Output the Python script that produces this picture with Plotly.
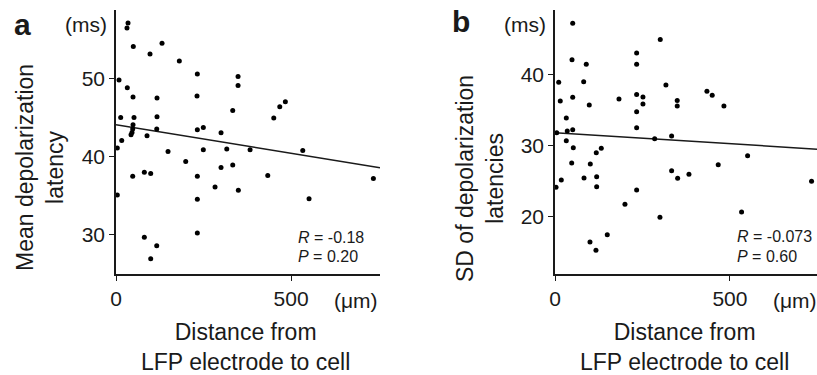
import plotly.graph_objects as go

# ---------------- data ----------------
# Panel a: distance (µm) vs mean depolarization latency (ms)
dist_a = [34.3, 31.4, 49.4, 131.4, 97.1, 180.9, 8.6, 232.3, 348.6, 348.6,
          32.3, 48.6, 117.1, 231.4, 333.4, 483.7, 467.7, 450.6, 13.4, 51.4,
          117.1, 48.6, 47.7, 45.7, 42.9, 116.3, 88.6, 232.3, 249.4, 300.0,
          16.3, 3.7, 148.6, 249.4, 316.3, 382.9, 533.4, 199.1, 300.0, 333.4,
          47.7, 80.9, 99.1, 232.3, 433.4, 282.9, 349.4, 3.7, 232.3, 551.4,
          735.1, 232.3, 80.9, 116.3, 99.1]
lat_a = [57.14, 56.5, 54.14, 54.53, 53.17, 52.27, 49.83, 50.60, 50.29, 49.14,
         48.85, 47.65, 47.53, 47.78, 45.94, 47.05, 46.41, 44.96, 45.04, 45.04,
         45.13, 44.10, 43.55, 43.12, 42.82, 43.55, 42.69, 43.46, 43.76, 43.08,
         42.09, 41.12, 40.68, 40.90, 40.99, 40.90, 40.81, 39.40, 38.63, 38.94,
         37.53, 38.04, 37.86, 37.53, 37.60, 36.15, 35.73, 35.13, 34.58, 34.62,
         37.22, 30.26, 29.71, 28.63, 26.96]
fit_a_x = [0, 754]
fit_a_y = [44.1, 38.6]

# Panel b: distance (µm) vs SD of depolarization latencies (ms)
dist_b = [50.6, 300.9, 233.4, 48.6, 89.4, 233.4, 10.6, 82.0, 317.1, 434.3,
          449.4, 50.6, 15.1, 182.9, 233.4, 251.4, 251.4, 349.4, 349.4, 98.0,
          482.9, 233.4, 32.3, 233.4, 50.6, 35.1, 4.9, 333.4, 284.9, 32.3,
          52.3, 132.3, 118.0, 47.7, 100.9, 466.6, 550.6, 18.0, 82.9, 119.1,
          119.1, 2.9, 333.4, 350.6, 382.9, 233.4, 200.0, 300.0, 533.4, 733.4,
          149.4, 100.0, 117.1]
sd_b = [47.15, 44.85, 42.99, 42.01, 41.40, 41.40, 38.88, 38.96, 38.50, 37.62,
        37.05, 36.77, 36.26, 36.54, 37.14, 36.82, 35.83, 36.30, 35.55, 35.69,
        35.55, 34.75, 33.87, 32.51, 32.23, 32.05, 31.81, 31.35, 30.97, 30.69,
        29.71, 29.62, 29.00, 27.56, 27.42, 27.32, 28.58, 25.18, 25.46, 25.64,
        24.24, 24.15, 26.48, 25.41, 25.97, 23.77, 21.77, 19.94, 20.69, 24.99,
        17.50, 16.48, 15.32]
fit_b_x = [0, 749]
fit_b_y = [31.8, 29.5]

ticks_x = [0, 500]
ticks_a = [30, 40, 50]
ticks_b = [20, 30, 40]
stats_a = ["<i>R</i> = -0.18", "<i>P</i> = 0.20"]
stats_b = ["<i>R</i> = -0.073", "<i>P</i> = 0.60"]

# ---------------- layout helpers ----------------
W, H = 817, 375
FONT = "Liberation Sans, Arial, sans-serif"
INK = "#1a1a1a"


def px(x, y):
    return x / W, 1 - y / H


fig = go.Figure()

for xs, ys, fx, fy, xa, ya in [(dist_a, lat_a, fit_a_x, fit_a_y, "x", "y"),
                               (dist_b, sd_b, fit_b_x, fit_b_y, "x2", "y2")]:
    fig.add_trace(go.Scatter(x=fx, y=fy, mode="lines",
                             line=dict(color=INK, width=1.5),
                             xaxis=xa, yaxis=ya, showlegend=False,
                             cliponaxis=False))
    fig.add_trace(go.Scatter(x=xs, y=ys, mode="markers",
                             marker=dict(color="black", size=5),
                             xaxis=xa, yaxis=ya, showlegend=False,
                             cliponaxis=False))

axis_common = dict(showline=True, linecolor=INK, linewidth=1.5,
                   ticks="outside", ticklen=5, tickwidth=1.2, tickcolor=INK,
                   showgrid=False, zeroline=False,
                   tickfont=dict(family=FONT, size=21, color=INK))

fig.update_layout(
    width=W, height=H,
    margin=dict(l=0, r=0, t=0, b=0),
    paper_bgcolor="white", plot_bgcolor="white",
    template="none",
    font=dict(family=FONT, color=INK),
    xaxis=dict(domain=[116 / W, 380 / W], range=[0, 754], tickvals=ticks_x,
               anchor="y", **axis_common),
    yaxis=dict(domain=[1 - 274 / H, 1 - 10 / H], range=[25, 58.8],
               tickvals=ticks_a, anchor="x", **axis_common),
    xaxis2=dict(domain=[555 / W, 1.0], range=[0, 749], tickvals=ticks_x,
                anchor="y2", **axis_common),
    yaxis2=dict(domain=[1 - 274 / H, 1 - 10 / H], range=[12.0, 49.0],
                tickvals=ticks_b, anchor="x2", **axis_common),
)


def ann(text, x, y, size, xanchor="center", yanchor="middle", angle=0,
        bold=False, align="center"):
    ax, ay = px(x, y)
    fig.add_annotation(text=f"<b>{text}</b>" if bold else text,
                       x=ax, y=ay, xref="paper", yref="paper",
                       xanchor=xanchor, yanchor=yanchor, showarrow=False,
                       textangle=angle, align=align,
                       font=dict(family=FONT, size=size, color=INK))


# panel letters and units
ann("a", 22, 24, 30, bold=True)
ann("b", 461, 22, 30, bold=True)
ann("(ms)", 86, 24, 21)
ann("(ms)", 525, 24, 21)
ann("(μm)", 356, 300, 21)
ann("(μm)", 795, 300, 21)

# axis titles
ann("Distance from<br>LFP electrode to cell", 246, 347, 23)
ann("Distance from<br>LFP electrode to cell", 684, 347, 23)
ann("Mean depolarization<br>latency", 40, 168, 23, angle=-90)
ann("SD of depolarization<br>latencies", 480, 179, 23, angle=-90)

# statistics
ann(stats_a[0], 296, 237, 16, xanchor="left")
ann(stats_a[1], 296, 256, 16, xanchor="left")
ann(stats_b[0], 735, 236, 16, xanchor="left")
ann(stats_b[1], 735, 256, 16, xanchor="left")

fig.write_html("out.html", config={"displayModeBar": False},
               post_script="document.body.style.margin='0';")
